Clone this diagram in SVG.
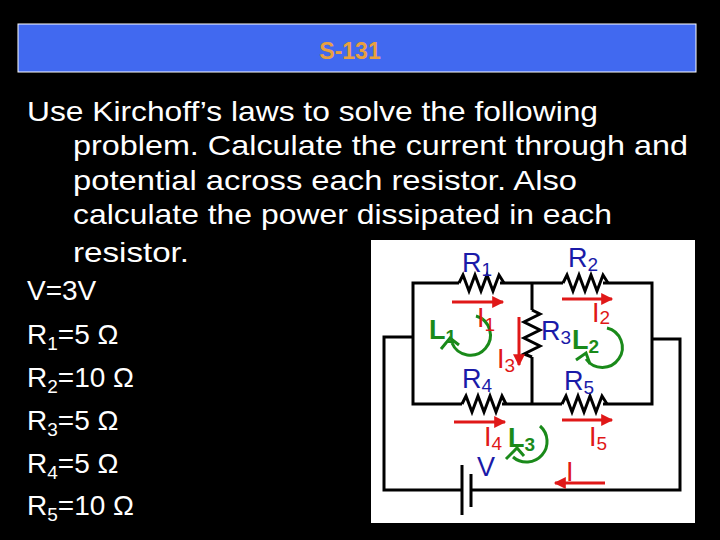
<svg xmlns="http://www.w3.org/2000/svg" width="720" height="540" viewBox="0 0 720 540">
<defs>
<style>
.b{font-family:"Liberation Sans",Arial,sans-serif;font-size:28px;fill:#fff}
.c{font-family:"Liberation Sans",Arial,sans-serif;font-size:27px}
.bl{fill:#1a1aa8}.rd{fill:#e01818}.gn{fill:#1a8a1a;font-weight:bold}
.w{fill:none;stroke:#000;stroke-width:3}
.ar{stroke:#e01818;stroke-width:3;fill:none;marker-end:url(#ah)}
.lp{fill:none;stroke:#1a8a1a;stroke-width:3}
</style>
<marker id="ah" viewBox="0 0 10 10" refX="9" refY="5" markerWidth="4.5" markerHeight="4" orient="auto"><path d="M0,0L10,5L0,10z" fill="#e01818"/></marker>
</defs>
<rect width="720" height="540" fill="#000"/>
<g id="title">
<rect x="18" y="24" width="678" height="48" fill="#4169f0" stroke="#fff" stroke-width="1"/>
<text x="350" y="59" text-anchor="middle" font-family="Liberation Sans,Arial,sans-serif" font-size="23" font-weight="bold" fill="#e8a040">S-131</text>
</g>
<g id="body">
<text class="b" x="27" y="121" textLength="571" lengthAdjust="spacingAndGlyphs">Use Kirchoff’s laws to solve the following</text>
<text class="b" x="73" y="155" textLength="615" lengthAdjust="spacingAndGlyphs">problem.  Calculate the current through and</text>
<text class="b" x="73" y="190" textLength="504" lengthAdjust="spacingAndGlyphs">potential across each resistor.  Also</text>
<text class="b" x="73" y="224" textLength="539" lengthAdjust="spacingAndGlyphs">calculate the power dissipated in each</text>
<text class="b" x="73" y="262" textLength="116" lengthAdjust="spacingAndGlyphs">resistor.</text>
<text class="b" x="27" y="300">V=3V</text>
<text class="b" x="27" y="344">R<tspan font-size="19" dy="6">1</tspan><tspan dy="-6">=5  Ω</tspan></text>
<text class="b" x="27" y="387">R<tspan font-size="19" dy="6">2</tspan><tspan dy="-6">=10  Ω</tspan></text>
<text class="b" x="27" y="430">R<tspan font-size="19" dy="6">3</tspan><tspan dy="-6">=5  Ω</tspan></text>
<text class="b" x="27" y="473">R<tspan font-size="19" dy="6">4</tspan><tspan dy="-6">=5  Ω</tspan></text>
<text class="b" x="27" y="515">R<tspan font-size="19" dy="6">5</tspan><tspan dy="-6">=10  Ω</tspan></text>
</g>
<g id="circuit">
<rect x="371" y="240" width="324" height="283" fill="#fff"/>
<g id="wires">
<path class="w" d="M459,283H413V404H462M502,404H562M603,404H652V283H603M563,283H500M532,283V310M532,357V404"/>
<path class="w" d="M413,337H384V490H462M471,490H680V339H652"/>
<path class="w" d="M459,283l4,-8l6,16l6,-16l6,16l6,-16l6,16l6,-16l5,8"/>
<path class="w" d="M563,283l4,-8l6,16l6,-16l6,16l6,-16l6,16l6,-16l5,8"/>
<path class="w" d="M462,404l4,-8l6,16l6,-16l6,16l6,-16l6,16l6,-16l4,8"/>
<path class="w" d="M562,404l4,-8l6,16l6,-16l6,16l6,-16l6,16l6,-16l5,8"/>
<path class="w" d="M532,310l8,4l-16,8l16,8l-16,8l16,8l-16,8l8,3"/>
<path class="w" d="M462,465V515M471,474V507"/>
</g>
<g id="currents">
<path class="ar" d="M452,302H503"/>
<path class="ar" d="M562,299H612"/>
<path class="ar" d="M519,317V365"/>
<path class="ar" d="M454,422H505"/>
<path class="ar" d="M562,420H612"/>
<path class="ar" d="M605,483H555"/>
</g>
<g id="loops">
<path class="lp" d="M476,316A20,20 0 1 1 452,343"/><path class="lp" d="M441,349L450,338L459,345"/>
<path class="lp" d="M607,328A20,20 0 1 1 586,359"/><path class="lp" d="M576,360L586,353L590,364"/>
<path class="lp" d="M540,426A20,20 0 1 1 513,457"/><path class="lp" d="M506,459L517,448L524,456"/>
</g>
<g id="labels" class="c">
<text class="bl" x="462" y="272">R<tspan font-size="19" dy="4">1</tspan></text>
<text class="bl" x="568" y="267">R<tspan font-size="19" dy="4">2</tspan></text>
<text class="bl" x="541" y="340">R<tspan font-size="19" dy="4">3</tspan></text>
<text class="bl" x="462" y="388">R<tspan font-size="19" dy="4">4</tspan></text>
<text class="bl" x="564" y="390">R<tspan font-size="19" dy="4">5</tspan></text>
<text class="bl" x="477" y="476">V</text>
<text class="gn" x="429" y="339">L<tspan font-size="19" dy="4">1</tspan></text>
<text class="gn" x="572" y="349">L<tspan font-size="19" dy="4">2</tspan></text>
<text class="gn" x="508" y="447">L<tspan font-size="19" dy="4">3</tspan></text>
<text class="rd" x="477" y="327">I<tspan font-size="19" dy="4">1</tspan></text>
<text class="rd" x="592" y="322">I<tspan font-size="19" dy="2">2</tspan></text>
<text class="rd" x="497" y="368">I<tspan font-size="19" dy="4">3</tspan></text>
<text class="rd" x="484" y="446">I<tspan font-size="19" dy="4">4</tspan></text>
<text class="rd" x="589" y="446">I<tspan font-size="19" dy="4">5</tspan></text>
<text class="rd" x="566" y="481">I</text>
</g>
</g>
</svg>
